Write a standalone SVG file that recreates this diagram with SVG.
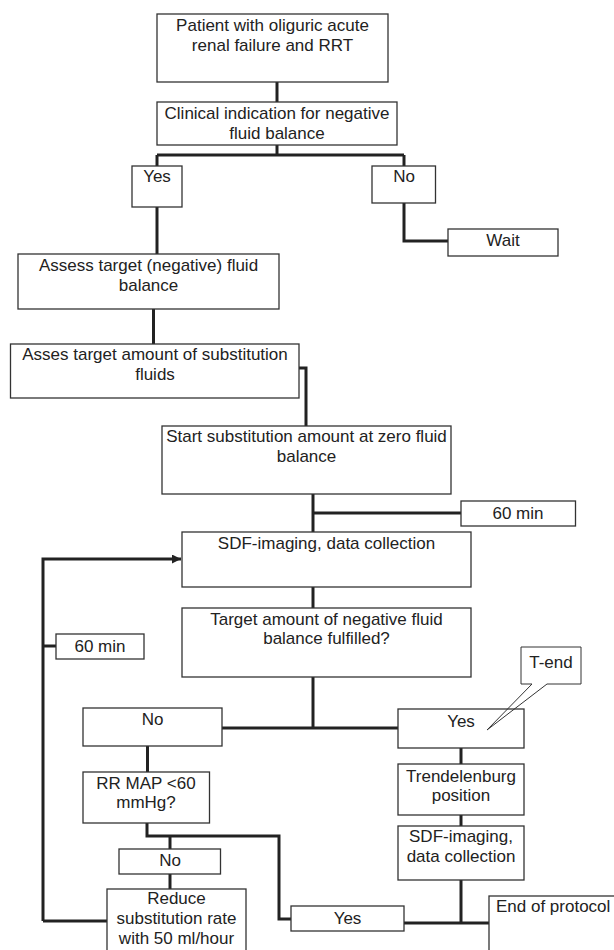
<svg xmlns="http://www.w3.org/2000/svg" width="614" height="950" viewBox="0 0 614 950">
<defs>
<style>
.box{fill:#fff;stroke:#333;stroke-width:1.3}
.t{font-family:"Liberation Sans",Arial,sans-serif;font-size:17px;fill:#222;text-anchor:middle}
.tl{font-family:"Liberation Sans",Arial,sans-serif;font-size:17px;fill:#222;text-anchor:start}
.c{fill:none;stroke:#222;stroke-width:3}
.thin{fill:none;stroke:#333;stroke-width:1}
</style>
<marker id="arr" markerWidth="9" markerHeight="9" refX="9" refY="4.5" orient="auto" markerUnits="userSpaceOnUse">
<path d="M0,0 L9,4.5 L0,9 Z" fill="#222"/>
</marker>
</defs>
<rect width="614" height="950" fill="#fff"/>

<g id="connectors">
<path class="c" d="M277,82 V102"/>
<path class="c" d="M277,145 V155"/>
<path class="c" d="M157,155 H404"/>
<path class="c" d="M157,155 V166"/>
<path class="c" d="M404,155 V166"/>
<path class="c" d="M404,203 V241 H448"/>
<path class="c" d="M157,207 V254"/>
<path class="c" d="M153.5,309 V344"/>
<path class="c" d="M299,368 H306 V426"/>
<path class="c" d="M313,494 V532"/>
<path class="c" d="M313,513 H461"/>
<path class="c" d="M43,921 V559 H181" marker-end="url(#arr)"/>
<path class="c" d="M43,646 H56"/>
<path class="c" d="M313,587 V608"/>
<path class="c" d="M313,677 V728"/>
<path class="c" d="M222,728 H398"/>
<path class="c" d="M147.5,746 V772"/>
<path class="c" d="M147,823 V836 H279 V919 H291"/>
<path class="c" d="M170,836 V849"/>
<path class="c" d="M170,874 V889"/>
<path class="c" d="M43,921 H107"/>
<path class="c" d="M461,748 V764"/>
<path class="c" d="M461,815 V826"/>
<path class="c" d="M461,880 V923"/>
<path class="c" d="M404,923 H489"/>
</g>

<g id="patient">
<rect class="box" x="157" y="14" width="231" height="68"/>
<text class="t" x="272.5" y="31">Patient with oliguric acute</text>
<text class="t" x="272.5" y="51">renal failure and RRT</text>
</g>

<g id="clinical">
<rect class="box" x="157" y="102" width="240" height="43"/>
<text class="t" x="277" y="119">Clinical indication for negative</text>
<text class="t" x="277" y="139">fluid balance</text>
</g>

<g id="yes1">
<rect class="box" x="132" y="166" width="50" height="41"/>
<text class="t" x="157" y="182">Yes</text>
</g>

<g id="no1">
<rect class="box" x="372" y="166" width="63.5" height="37"/>
<text class="t" x="404" y="182">No</text>
</g>

<g id="wait">
<rect class="box" x="448" y="229" width="110" height="27"/>
<text class="t" x="503" y="246">Wait</text>
</g>

<g id="assess">
<rect class="box" x="18" y="254" width="261" height="55"/>
<text class="t" x="148.5" y="271">Assess target (negative) fluid</text>
<text class="t" x="148.5" y="291">balance</text>
</g>

<g id="asses">
<rect class="box" x="10.5" y="344" width="288.5" height="54"/>
<text class="t" x="155" y="360">Asses target amount of substitution</text>
<text class="t" x="155" y="380">fluids</text>
</g>

<g id="start">
<rect class="box" x="162" y="426" width="289" height="68"/>
<text class="t" x="306.5" y="442">Start substitution amount at zero fluid</text>
<text class="t" x="306.5" y="462">balance</text>
</g>

<g id="min60a">
<rect class="box" x="461" y="501" width="114.5" height="25"/>
<text class="t" x="518" y="519">60 min</text>
</g>

<g id="sdf1">
<rect class="box" x="182" y="532" width="289" height="55"/>
<text class="t" x="326.5" y="549">SDF-imaging, data collection</text>
</g>

<g id="min60b">
<rect class="box" x="56" y="634" width="88" height="25"/>
<text class="t" x="100" y="652">60 min</text>
</g>

<g id="target">
<rect class="box" x="182" y="608" width="289" height="69"/>
<text class="t" x="326.5" y="625">Target amount of negative fluid</text>
<text class="t" x="326.5" y="644">balance fulfilled?</text>
</g>

<g id="no2">
<rect class="box" x="83" y="708" width="139" height="38"/>
<text class="t" x="152.5" y="725">No</text>
</g>

<g id="yes2">
<rect class="box" x="398" y="709" width="126" height="39"/>
<text class="t" x="461" y="727">Yes</text>
</g>

<g id="tend">
<path class="thin" d="M532,684 H521 V647 H581 V684 H547"/>
<path class="thin" d="M532,684 L487,730 L547,684"/>
<text class="t" x="551" y="668">T-end</text>
</g>

<g id="rrmap">
<rect class="box" x="83" y="772" width="126.5" height="51"/>
<text class="t" x="146" y="789">RR MAP &lt;60</text>
<text class="t" x="146" y="808">mmHg?</text>
</g>

<g id="trend">
<rect class="box" x="398" y="764" width="126" height="51"/>
<text class="t" x="461" y="782">Trendelenburg</text>
<text class="t" x="461" y="801">position</text>
</g>

<g id="sdf2">
<rect class="box" x="398" y="826" width="126" height="54"/>
<text class="t" x="461" y="842">SDF-imaging,</text>
<text class="t" x="461" y="862">data collection</text>
</g>

<g id="no3">
<rect class="box" x="119" y="849" width="101.5" height="25"/>
<text class="t" x="170" y="866">No</text>
</g>

<g id="reduce">
<rect class="box" x="107" y="889" width="139" height="70"/>
<text class="t" x="176.5" y="904">Reduce</text>
<text class="t" x="176.5" y="924">substitution rate</text>
<text class="t" x="176.5" y="944">with 50 ml/hour</text>
</g>

<g id="yes3">
<rect class="box" x="291" y="906" width="113" height="25"/>
<text class="t" x="347.5" y="924">Yes</text>
</g>

<g id="end">
<rect class="box" x="489" y="896" width="140" height="70"/>
<text class="tl" x="496" y="912">End of protocol</text>
</g>
</svg>
